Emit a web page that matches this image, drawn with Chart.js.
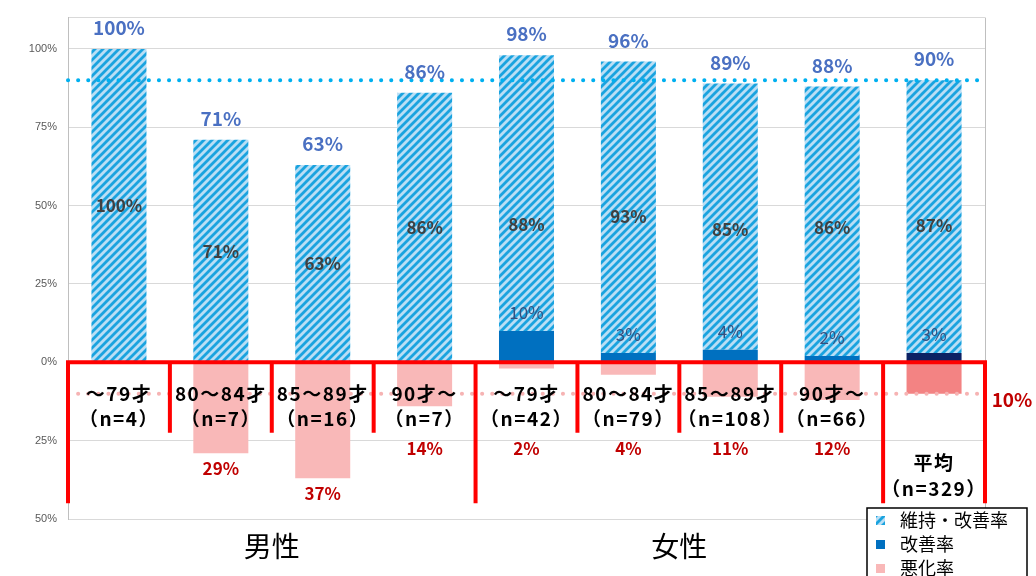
<!DOCTYPE html>
<html>
<head>
<meta charset="utf-8">
<script src="https://cdn.jsdelivr.net/npm/chart.js@4"></script>
<style>
  html, body { margin: 0; padding: 0; background: #fff; }
  #wrap { width: 1036px; height: 576px; }
</style>
</head>
<body>
<div id="wrap"><canvas id="myChart" width="1036" height="576"></canvas></div>
<script>
let categories = ['～79才', '80～84才', '85～89才', '90才～', '～79才', '80～84才', '85～89才', '90才～', '平均'];
let sampleSizes = [4, 7, 16, 7, 42, 79, 108, 66, 329];
let maintainRate = [100, 71, 63, 86, 88, 93, 85, 86, 87];
let improveRate = [0, 0, 0, 0, 10, 3, 4, 2, 3];
let totalRate = [100, 71, 63, 86, 98, 96, 89, 88, 90];
let worsenRate = [0, 29, 37, 14, 2, 4, 11, 12, 10];
let groupNames = ['男性', '女性'];
let groupEnds = [3, 7];  // last category index of each group
let targetRate = 90;
let worsenAvgRate = 10;
let legendLabels = ['維持・改善率', '改善率', '悪化率'];

const FONT = "'Noto Sans CJK JP', 'Noto Sans', sans-serif";

function makeHatch() {
    let c = document.createElement('canvas');
    c.width = 8; c.height = 8;
    let g = c.getContext('2d');
    g.fillStyle = '#B9DEF5';
    g.fillRect(0, 0, 8, 8);
    g.strokeStyle = '#1AA3DF';
    g.lineWidth = 2.8;
    g.beginPath();
    g.moveTo(-1, 9); g.lineTo(9, -1);
    g.moveTo(-5, 5); g.lineTo(5, -5);
    g.moveTo(3, 13); g.lineTo(13, 3);
    g.stroke();
    return g.createPattern(c, 'repeat');
}
let hatch = makeHatch();

let improveColors = categories.map((c, i) => i === categories.length - 1 ? '#0B2163' : '#0070C0');
let worsenColors = categories.map((c, i) => i === categories.length - 1 ? '#F38383' : '#F9B8B8');

let overlay = {
    id: 'overlay',
    afterDatasetsDraw(chart) {
        let ctx = chart.ctx;
        let x = chart.scales.x, y = chart.scales.y;
        let area = chart.chartArea;
        let step = x.getPixelForValue(1) - x.getPixelForValue(0);
        let y0 = y.getPixelForValue(0);
        ctx.save();

        // right frame
        ctx.strokeStyle = '#BFBFBF';
        ctx.lineWidth = 1;
        ctx.beginPath();
        ctx.moveTo(area.right + 0.5, area.top);
        ctx.lineTo(area.right + 0.5, area.bottom);
        ctx.stroke();

        // dotted reference lines
        ctx.lineCap = 'round';
        ctx.lineWidth = 4;
        ctx.setLineDash([0.1, 10]);
        ctx.strokeStyle = '#00B0F0';
        ctx.beginPath();
        ctx.moveTo(area.left, y.getPixelForValue(targetRate));
        ctx.lineTo(area.right, y.getPixelForValue(targetRate));
        ctx.stroke();
        ctx.strokeStyle = '#F6B3B3';
        ctx.beginPath();
        ctx.moveTo(area.left, y.getPixelForValue(-worsenAvgRate));
        ctx.lineTo(area.right, y.getPixelForValue(-worsenAvgRate));
        ctx.stroke();
        ctx.setLineDash([]);
        ctx.lineCap = 'butt';

        // red frame lines
        ctx.strokeStyle = '#FF0000';
        ctx.lineWidth = 4;
        ctx.beginPath();
        ctx.moveTo(area.left - 2, y0);
        ctx.lineTo(area.right + 2, y0);
        for (let i = -1; i < categories.length; i++) {
            let bx = x.getPixelForValue(i) + step / 2;
            let long = i === -1 || i === categories.length - 1 || groupEnds.includes(i);
            ctx.moveTo(bx, y0);
            ctx.lineTo(bx, y.getPixelForValue(long ? -45 : -22.5));
        }
        ctx.stroke();

        ctx.textAlign = 'center';
        ctx.textBaseline = 'middle';
        categories.forEach((cat, i) => {
            let cx = x.getPixelForValue(i);
            // total label on top
            ctx.fillStyle = '#4A70C2';
            ctx.font = 'bold 19px ' + FONT;
            ctx.fillText(totalRate[i] + '%', cx, y.getPixelForValue(totalRate[i]) - 21);
            // maintain label
            ctx.fillStyle = '#404040';
            ctx.font = 'bold 17px ' + FONT;
            ctx.fillText(maintainRate[i] + '%', cx, y.getPixelForValue(maintainRate[i] / 2));
            // improve label
            if (improveRate[i] > 0) {
                ctx.fillStyle = '#34507F';
                ctx.font = '17px ' + FONT;
                ctx.fillText(improveRate[i] + '%', cx, y.getPixelForValue(improveRate[i]) - 18);
            }
            // worsen label
            if (worsenRate[i] > 0 && i < categories.length - 1) {
                ctx.fillStyle = '#C00000';
                ctx.font = 'bold 17px ' + FONT;
                ctx.fillText(worsenRate[i] + '%', cx, y.getPixelForValue(Math.min(-worsenRate[i] - 5, -27.5)));
            }
            // category labels
            ctx.fillStyle = '#000';
            ctx.font = 'bold 19px ' + FONT;
            ctx.letterSpacing = '1.5px';
            if (i === categories.length - 1) {
                ctx.fillText(cat, cx, y.getPixelForValue(-32));
                ctx.fillText('（n=' + sampleSizes[i] + '）', cx, y.getPixelForValue(-40.5));
            } else {
                ctx.fillText(cat, cx, y.getPixelForValue(-10));
                ctx.fillText('（n=' + sampleSizes[i] + '）', cx, y.getPixelForValue(-18));
            }
            ctx.letterSpacing = '0px';
        });

        // average worsen label at right
        ctx.fillStyle = '#C00000';
        ctx.font = 'bold 19px ' + FONT;
        ctx.fillText(worsenAvgRate + '%', area.right + 27, y.getPixelForValue(-worsenAvgRate) + 6);

        // group labels
        ctx.fillStyle = '#000';
        ctx.font = '28px ' + FONT;
        let start = 0;
        groupNames.forEach((g, k) => {
            let gx = (x.getPixelForValue(start) + x.getPixelForValue(groupEnds[k])) / 2;
            ctx.fillText(g, gx, area.bottom + 27);
            start = groupEnds[k] + 1;
        });

        // legend
        let lx = area.right - 118, ly = area.bottom - 11;
        ctx.fillStyle = '#fff';
        ctx.fillRect(lx, ly, 160, 80);
        ctx.strokeStyle = '#000';
        ctx.lineWidth = 1.5;
        ctx.strokeRect(lx, ly, 160, 80);
        let swatches = [hatch, '#0070C0', '#F9B8B8'];
        ctx.textAlign = 'left';
        ctx.font = '18px ' + FONT;
        legendLabels.forEach((t, k) => {
            let ry = ly + 12 + k * 24;
            ctx.fillStyle = swatches[k];
            ctx.fillRect(lx + 9, ry - 4, 9, 9);
            ctx.fillStyle = '#000';
            ctx.fillText(t, lx + 33, ry);
        });
        ctx.restore();
    }
};

let ctx = document.getElementById('myChart');
let myChart = new Chart(ctx, {
    type: 'bar',
    data: {
        labels: categories,
        datasets: [{
            label: '改善率',
            data: improveRate,
            backgroundColor: improveColors
        }, {
            label: '維持・改善率',
            data: maintainRate,
            backgroundColor: hatch
        }, {
            label: '悪化率',
            data: worsenRate.map(v => -v),
            backgroundColor: worsenColors
        }]
    },
    options: {
        responsive: false,
        animation: false,
        layout: { padding: { left: 0, right: 51, top: 11, bottom: 57 } },
        datasets: { bar: { barPercentage: 0.54, categoryPercentage: 1 } },
        scales: {
            x: { stacked: true, display: false },
            y: {
                stacked: true,
                min: -50,
                max: 110,
                afterFit: (scale) => { scale.width = 68; },
                ticks: {
                    stepSize: 25,
                    padding: 11,
                    color: '#595959',
                    font: { size: 11, family: 'Liberation Sans' },
                    callback: (v) => v > 100 ? '' : Math.abs(v) + '%'
                },
                grid: { color: '#D9D9D9', drawTicks: false },
                border: { color: '#BFBFBF' }
            }
        },
        plugins: {
            legend: { display: false },
            tooltip: { enabled: false }
        }
    },
    plugins: [overlay]
});
</script>
</body>
</html>
